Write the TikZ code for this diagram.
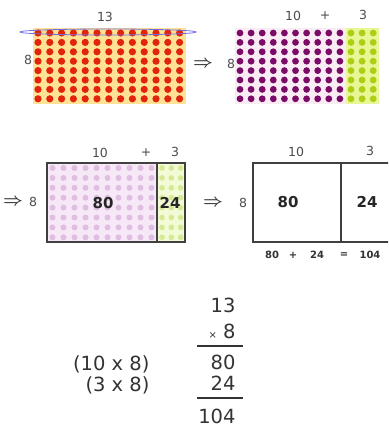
\documentclass[tikz,border=0pt]{standalone}
\usepackage{amsmath}
\usepackage{fontspec}
\setmainfont{DejaVu Sans}
\usepackage{tikz}
\definecolor{dotred}{RGB}{226,36,12}
\definecolor{halo}{RGB}{255,226,150}
\definecolor{dotpurple}{RGB}{122,12,104}
\definecolor{palepurple}{RGB}{250,236,244}
\definecolor{dotgreen}{RGB}{172,206,20}
\definecolor{palegreen}{RGB}{232,246,150}
\definecolor{softpink}{RGB}{224,190,226}
\definecolor{pinkbg}{RGB}{246,232,246}
\definecolor{softlime}{RGB}{214,234,150}
\definecolor{limebg}{RGB}{242,250,214}
\definecolor{ringblue}{RGB}{110,110,230}

\begin{document}
\begin{tikzpicture}[x=1pt, y=-1pt,
    lbl/.style={font=\fontsize{12.5}{13}\selectfont, text=black!70},
    num/.style={font=\fontsize{15}{16}\selectfont\bfseries, text=black!85},
    eq/.style={font=\fontsize{10}{11}\selectfont\bfseries, text=black!80},
    sum/.style={font=\fontsize{19.5}{20}\selectfont, text=black!80},
    imp/.style={font=\fontsize{17}{18}\selectfont, text=black!80},
    panel/.style={draw=black!75, line width=1.3pt}
]
    \clip (0,0) rectangle (388,427);

    % 13 x 8 array of dots
    \fill[halo] (33,28) rectangle (186,104);
    \foreach \i in {0,...,12}
        \foreach \j in {0,...,7}
            \fill[dotred] (38+11.8*\i, 33+9.4*\j) circle (3.6);
    \draw[ringblue, thick] (108,32) ellipse (88 and 3);
    \node[lbl] (top13) at (105,17) {13};
    \node[lbl] (top8) at (28,60) {8};

    \node[imp] (imp1) at (203,64) {$\boldsymbol{\Rightarrow}$};

    % split into 10 + 3
    \fill[palepurple] (235,28) rectangle (346,104);
    \fill[palegreen] (346,28) rectangle (379,104);
    \foreach \i in {0,...,12}
        \foreach \j in {0,...,7} {
            \ifnum\i<10
                \fill[dotpurple] (240+11.1*\i, 33+9.4*\j) circle (3.4);
            \else
                \fill[dotgreen] (240+11.1*\i, 33+9.4*\j) circle (3.4);
            \fi
        }
    \node[lbl] (r10) at (293,16) {10};
    \node[lbl] (rplus) at (325,16) {+};
    \node[lbl] (r3) at (363,15) {3};
    \node[lbl] (r8) at (231,64) {8};

    % area model with faint dots
    \fill[pinkbg] (47,163) rectangle (157,242);
    \fill[limebg] (157,163) rectangle (185,242);
    \foreach \i in {0,...,9}
        \foreach \j in {0,...,7}
            \fill[softpink] (52.5+11*\i, 168+9.9*\j) circle (3);
    \foreach \i in {0,...,2}
        \foreach \j in {0,...,7}
            \fill[softlime] (162+9.3*\i, 168+9.9*\j) circle (2.8);
    \draw[panel] (47,163) rectangle (185,242);
    \draw[panel] (157,163) -- (157,242);
    \node[imp] (imp2) at (13,202) {$\boldsymbol{\Rightarrow}$};
    \node[lbl] (m8) at (33,202) {8};
    \node[lbl] (m10) at (100,153) {10};
    \node[lbl] (mplus) at (146,153) {+};
    \node[lbl] (m3) at (175,152) {3};
    \node[num] (m80) at (103,203) {80};
    \node[num] (m24) at (170,203) {24};

    % plain area model
    \draw[panel] (253,163) rectangle (400,242);
    \draw[panel] (341,163) -- (341,242);
    \node[imp] (imp3) at (213,203) {$\boldsymbol{\Rightarrow}$};
    \node[lbl] (p8) at (243,203) {8};
    \node[lbl] (p10) at (296,152) {10};
    \node[lbl] (p3) at (370,151) {3};
    \node[num] (p80) at (288,202) {80};
    \node[num] (p24) at (367,202) {24};
    \node[eq] (eq80) at (272,255) {80};
    \node[eq] (eqplus) at (293,255) {+};
    \node[eq] (eq24) at (317,255) {24};
    \node[eq] (eqeq) at (344,255) {=};
    \node[eq] (eq104) at (370,255) {104};

    % column multiplication
    \node[sum, anchor=east] (c13) at (239,305) {13};
    \node[sum, anchor=east] (c8) at (239,331) {\fontsize{10}{10}\selectfont×\hspace{6pt}\fontsize{19.5}{20}\selectfont 8};
    \draw[black!80, line width=1.5pt] (197,346) -- (243,346);
    \node[sum, anchor=east] (c80) at (239,362) {80};
    \node[sum, anchor=east] (c24) at (239,383) {24};
    \draw[black!80, line width=1.5pt] (197,398) -- (243,398);
    \node[sum, anchor=east] (c104) at (239,416) {104};
    \node[sum, anchor=east] (w1) at (153,364) {(10 x 8)};
    \node[sum, anchor=east] (w2) at (153,385) {(3 x 8)};
\end{tikzpicture}
\end{document}
